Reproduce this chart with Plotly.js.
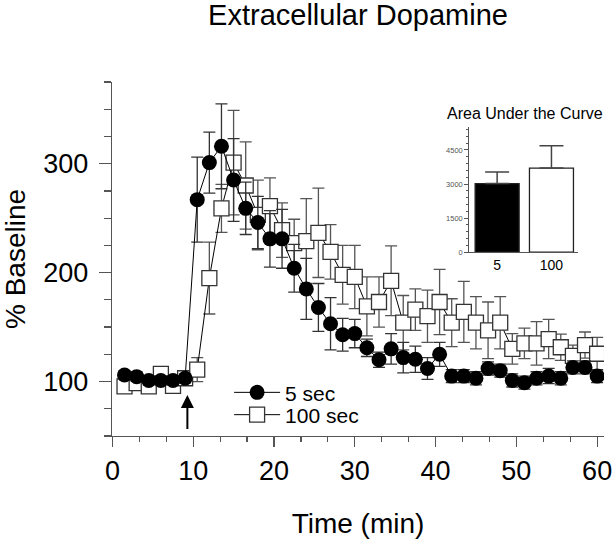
<!DOCTYPE html>
<html>
<head>
<meta charset="utf-8">
<script src="https://cdn.plot.ly/plotly-3.0.1.min.js"></script>
<style>html,body{margin:0;padding:0;background:#fff;}#chart{width:613px;height:544px;}</style>
</head>
<body>
<div id="chart"></div>
<script>
// ---- Data ----
const timeMin = [1.5, 3, 4.5, 6, 7.5, 9, 10.5, 12, 13.5, 15, 16.5, 18, 19.5, 21, 22.5, 24, 25.5, 27, 28.5, 30,
                 31.5, 33, 34.5, 36, 37.5, 39, 40.5, 42, 43.5, 45, 46.5, 48, 49.5, 51, 52.5, 54, 55.5, 57, 58.5, 60];

const sec5 = [106, 104.5, 101, 101, 101, 103, 267, 301, 316, 285, 259, 246, 231, 231, 204, 185, 168, 153, 143, 144,
              131, 120, 130, 122, 120.5, 112, 125, 105, 105, 103, 112, 110, 101, 99, 103, 105, 103, 113, 113, 105];
const sec5Err = [4, 4, 4, 4, 4, 4, 39, 28, 39, 38, 24, 24, 26, 27, 22, 28, 22, 24, 15, 13,
                 8, 7, 14, 14, 12, 10, 11, 6, 6, 6, 6, 6, 6, 6, 6, 7, 6, 6, 6, 6];

const sec100 = [95.5, 98.5, 95.5, 107, 96, 103, 111, 195, 259, 301, 280, 253, 261, 239, 227, 229, 236.5, 219, 198, 196,
                169, 173, 192.5, 154, 166, 160, 173, 154, 164, 154, 147, 154, 130, 135, 135, 139, 131.5, 123.5, 133.5, 125.5];
const sec100Err = [4, 4, 4, 4, 4, 4, 11, 33, 22, 48, 40, 32, 26, 25, 22, 39, 41, 25, 27, 29,
                   27, 23, 32, 25, 19, 24, 30, 22, 28, 24, 26, 24, 14, 14, 20, 18, 12, 10, 12, 15];

const aucGroups = ['5', '100'];
const aucValues = [3020, 3700];
const aucErr = [510, 985];

const titleText = 'Extracellular Dopamine';
const xTitle = 'Time (min)';
const yTitle = '% Baseline';
const insetTitle = 'Area Under the Curve';
const seriesNames = ['5 sec', '100 sec'];

// ---- Traces ----
const font = 'Liberation Sans, Arial, Helvetica, sans-serif';

const tr100 = {
  x: timeMin, y: sec100, type: 'scatter', mode: 'lines+markers', name: seriesNames[1], legend: 'legend2',
  line: {color: '#000', width: 1},
  marker: {symbol: 'square', size: 15, color: '#fff', line: {color: '#333', width: 1.3}},
  error_y: {type: 'data', array: sec100Err, visible: true, color: '#555', thickness: 1.3, width: 6},
  xaxis: 'x', yaxis: 'y'
};
const tr5 = {
  x: timeMin, y: sec5, type: 'scatter', mode: 'lines+markers', name: seriesNames[0], legend: 'legend',
  line: {color: '#000', width: 1},
  marker: {symbol: 'circle', size: 15, color: '#000'},
  error_y: {type: 'data', array: sec5Err, visible: true, color: '#333', thickness: 1.3, width: 6},
  xaxis: 'x', yaxis: 'y'
};
const trAuc = {
  x: aucGroups, y: aucValues, type: 'bar', showlegend: false,
  width: 0.81,
  marker: {color: ['#000', '#fff'], line: {color: '#222', width: 1.3}},
  error_y: {type: 'data', symmetric: false, array: aucErr, arrayminus: [0, 0], visible: true, color: '#444', thickness: 1.5, width: 12},
  xaxis: 'x2', yaxis: 'y2'
};

const legendStyle = {xanchor: 'left', yanchor: 'middle', bgcolor: 'rgba(0,0,0,0)', itemwidth: 46,
  font: {size: 21, family: font, color: '#000'}, itemsizing: 'trace'};

const layout = {
  width: 613, height: 544,
  margin: {l: 112, r: 9, t: 82, b: 108, pad: 0},
  paper_bgcolor: '#fff', plot_bgcolor: 'rgba(0,0,0,0)',
  font: {family: font, color: '#000'},
  title: {text: titleText, font: {size: 29, family: font, color: '#000'}, xref: 'paper', x: 0.5, xanchor: 'center',
          yref: 'container', y: 1 - 15/544, yanchor: 'middle'},
  xaxis: {
    range: [-0.05, 60.85], tick0: 0, dtick: 10, ticks: 'outside', ticklen: 10, tickwidth: 1.2, tickcolor: '#555',
    showline: true, linecolor: '#555', linewidth: 1.2, showgrid: false, zeroline: false,
    tickfont: {size: 27, family: font, color: '#000'},
    minor: {tick0: 0, dtick: 10/3, ticks: 'outside', ticklen: 5, tickwidth: 1.2, tickcolor: '#555', showgrid: false},
    title: {text: xTitle, font: {size: 28, family: font, color: '#000'}, standoff: 28},
    automargin: false
  },
  yaxis: {
    range: [50, 375], tick0: 0, dtick: 100, ticks: 'outside', ticklen: 12, tickwidth: 1.2, tickcolor: '#555',
    showline: true, linecolor: '#555', linewidth: 1.2, showgrid: false, zeroline: false,
    tickfont: {size: 27, family: font, color: '#000'}, ticklabelstandoff: 5,
    minor: {tick0: 0, dtick: 25, ticks: 'outside', ticklen: 7, tickwidth: 1.2, tickcolor: '#555', showgrid: false},
    title: {text: yTitle, font: {size: 28, family: font, color: '#000'}, standoff: 9},
    automargin: false
  },
  xaxis2: {
    domain: [0.7265, 0.9473], anchor: 'y2', type: 'category', range: [-0.51, 1.49],
    ticks: '', showline: true, linecolor: '#555', linewidth: 1.2, showgrid: false, zeroline: false,
    tickfont: {size: 14, family: font, color: '#000'}, automargin: false
  },
  yaxis2: {
    domain: [0.519, 0.8737], anchor: 'x2', range: [0, 5520], tick0: 0, dtick: 1500,
    ticks: 'outside', ticklen: 4, tickwidth: 1, tickcolor: '#555',
    showline: true, linecolor: '#555', linewidth: 1.2, showgrid: false, zeroline: false,
    tickfont: {size: 7.5, family: font, color: '#555'},
    minor: {tick0: 0, dtick: 300, ticks: 'outside', ticklen: 2, tickwidth: 1, tickcolor: '#555', showgrid: false},
    automargin: false
  },
  legend: Object.assign({x: 0.238, y: 0.1223}, legendStyle),
  legend2: Object.assign({x: 0.238, y: 0.0593}, legendStyle),
  annotations: [
    {text: insetTitle, xref: 'paper', yref: 'paper', x: 0.8394, y: 0.9124, xanchor: 'center', yanchor: 'middle',
     showarrow: false, font: {size: 16, family: font, color: '#000'}},
    {text: '', xref: 'x', yref: 'y', x: 9.28, y: 87.6, axref: 'x', ayref: 'y', ax: 9.28, ay: 55,
     showarrow: true, arrowhead: 2, arrowsize: 1.3, arrowwidth: 2, arrowcolor: '#000', standoff: 0, startstandoff: 0}
  ],
  showlegend: true
};

Plotly.newPlot('chart', [tr100, tr5, trAuc], layout, {staticPlot: true, displayModeBar: false});
</script>
</body>
</html>
